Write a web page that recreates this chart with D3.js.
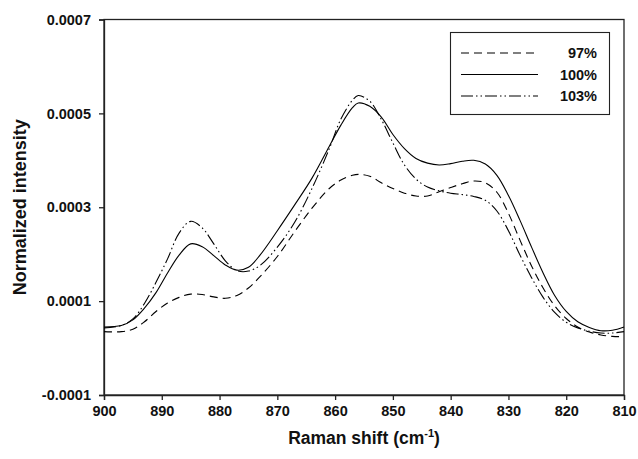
<!DOCTYPE html>
<meta charset="utf-8">
<style>
body { margin: 0; background: #fff; }
text { font-family: Arial, "Liberation Sans", sans-serif; font-weight: bold; fill: #111; }
.lines path { fill: none; stroke: #000; stroke-width: 1.1px; }
</style>
<svg width="638" height="459"></svg>
<script src="https://d3js.org/d3.v7.min.js"></script>
<script>
// wavenumbers (cm-1), shared by all three spectra
var shift = [900, 897, 895, 893, 891, 889, 887, 885, 883, 881, 879, 877, 875, 873, 870, 867, 864, 861, 859, 857, 856, 854, 852, 850,
             848, 846, 844, 842, 840, 838, 836, 834, 832, 830, 828, 826, 824, 822, 820, 818, 816, 814, 812, 810];

var s97 = [0.000035, 0.000035, 0.000040, 0.000056, 0.000078, 0.000096, 0.000108, 0.000115, 0.000114, 0.000109, 0.000106, 0.000112,
           0.000128, 0.000152, 0.000195, 0.000248, 0.000298, 0.000340, 0.000358, 0.000368, 0.000370, 0.000366, 0.000352, 0.000340,
           0.000330, 0.000324, 0.000324, 0.000333, 0.000342, 0.000350, 0.000356, 0.000352, 0.000332, 0.000287, 0.000230, 0.000175,
           0.000128, 0.000090, 0.000063, 0.000045, 0.000034, 0.000028, 0.000025, 0.000024];

var s100 = [0.000045, 0.000048, 0.000060, 0.000085, 0.000118, 0.000160, 0.000198, 0.000222, 0.000216, 0.000197, 0.000177, 0.000166,
            0.000172, 0.000198, 0.000250, 0.000305, 0.000362, 0.000430, 0.000475, 0.000512, 0.000522, 0.000515, 0.000492, 0.000455,
            0.000425, 0.000404, 0.000394, 0.000390, 0.000393, 0.000398, 0.000400, 0.000392, 0.000368, 0.000325, 0.000272, 0.000215,
            0.000160, 0.000112, 0.000078, 0.000056, 0.000044, 0.000037, 0.000038, 0.000045];

var s103 = [0.000043, 0.000048, 0.000062, 0.000095, 0.000140, 0.000190, 0.000245, 0.000270, 0.000256, 0.000222, 0.000186, 0.000165,
            0.000164, 0.000176, 0.000215, 0.000268, 0.000340, 0.000425, 0.000488, 0.000528, 0.000538, 0.000526, 0.000487, 0.000437,
            0.000390, 0.000360, 0.000343, 0.000335, 0.000330, 0.000327, 0.000323, 0.000315, 0.000292, 0.000250, 0.000198, 0.000150,
            0.000108, 0.000076, 0.000055, 0.000043, 0.000036, 0.000032, 0.000032, 0.000035];

var seriesNames = ["97%", "100%", "103%"];
var seriesDash = ["8,5", null, "12,3,1.5,3,1.5,3"];
var xTicks = [900, 890, 880, 870, 860, 850, 840, 830, 820, 810];
var yTicks = [-0.0001, 0.0001, 0.0003, 0.0005, 0.0007];

var svg = d3.select("svg");
var plot = {left: 104, right: 624, top: 19.5, bottom: 395};

var x = d3.scaleLinear().domain([900, 810]).range([plot.left, plot.right]);
var y = d3.scaleLinear().domain([-0.0001, 0.0007]).range([plot.bottom, plot.top]);

// frame
svg.append("rect")
    .attr("x", plot.left).attr("y", plot.top)
    .attr("width", plot.right - plot.left).attr("height", plot.bottom - plot.top)
    .attr("fill", "none").attr("stroke", "#222").attr("stroke-width", 1.3);

var fmtY = function(d) { return d3.format(".4f")(d).replace("\u2212", "-"); };

var xAxis = svg.append("g")
    .attr("transform", "translate(0," + plot.bottom + ")")
    .call(d3.axisBottom(x).tickValues(xTicks).tickSize(5).tickPadding(6).tickFormat(d3.format("d")));
var yAxis = svg.append("g")
    .attr("transform", "translate(" + plot.left + ",0)")
    .call(d3.axisLeft(y).tickValues(yTicks).tickSize(5).tickPadding(8).tickFormat(fmtY));

[xAxis, yAxis].forEach(function(g) {
  g.select(".domain").attr("stroke", "#222").attr("stroke-width", 1.3);
  g.selectAll(".tick line").attr("stroke", "#222").attr("stroke-width", 1.3);
  g.selectAll(".tick text").attr("font-size", 14.5).attr("font-family", null).attr("fill", "#111");
});

var line = d3.line()
    .x(function(d) { return x(d[0]); })
    .y(function(d) { return y(d[1]); })
    .curve(d3.curveCatmullRom.alpha(0.5));

var data = [s97, s100, s103].map(function(s) {
  return shift.map(function(v, i) { return [v, s[i]]; });
});

svg.append("g").attr("class", "lines")
  .selectAll("path")
  .data(data)
  .enter().append("path")
    .attr("d", line)
    .attr("stroke-dasharray", function(d, i) { return seriesDash[i]; });

// legend
var lg = svg.append("g");
lg.append("rect")
    .attr("x", 450.5).attr("y", 32.5).attr("width", 159).attr("height", 82)
    .attr("fill", "#fff").attr("stroke", "#222").attr("stroke-width", 1.1);
seriesNames.forEach(function(n, i) {
  var yy = 53 + i * 21.5;
  lg.append("line")
      .attr("x1", 461).attr("x2", 538).attr("y1", yy).attr("y2", yy)
      .attr("stroke", "#000").attr("stroke-width", 1.1)
      .attr("stroke-dasharray", seriesDash[i]);
  lg.append("text")
      .attr("x", 597).attr("y", yy + 5)
      .attr("text-anchor", "end").attr("font-size", 14.5)
      .text(n);
});

// axis titles
var xt = svg.append("text")
    .attr("x", (plot.left + plot.right) / 2).attr("y", 444)
    .attr("text-anchor", "middle").attr("font-size", 17.5);
xt.append("tspan").text("Raman shift (cm");
xt.append("tspan").attr("font-size", 11).attr("dy", -7).text("-1");
xt.append("tspan").attr("dy", 7).text(")");

svg.append("text")
    .attr("transform", "translate(26," + (plot.top + plot.bottom) / 2 + ") rotate(-90)")
    .attr("text-anchor", "middle").attr("font-size", 18)
    .text("Normalized intensity");
</script>
